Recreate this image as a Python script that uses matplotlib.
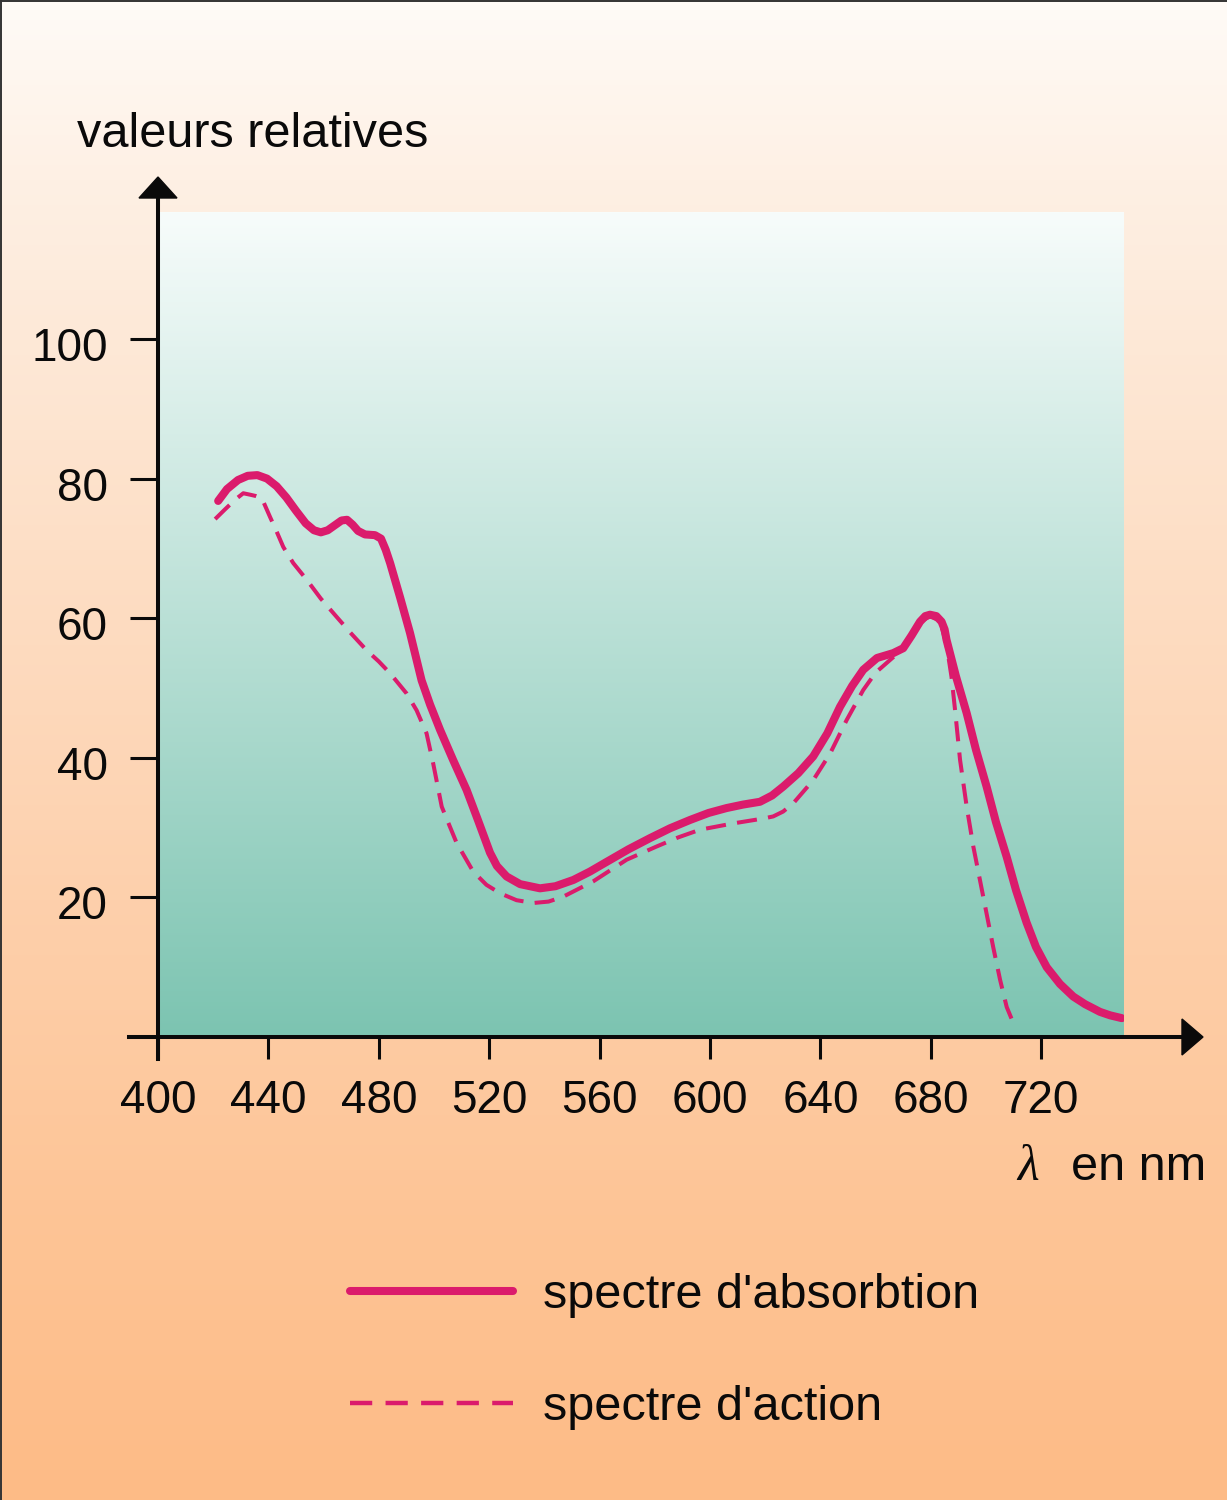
import matplotlib
matplotlib.use("Agg")
import matplotlib.pyplot as plt
import matplotlib.transforms as mtransforms
import numpy as np
from matplotlib.lines import Line2D
from matplotlib.patches import Polygon

# ── Data ──────────────────────────────────────────────────────────────────
wl_absorption = [421.8, 425.0, 429.0, 432.5, 436.0, 439.5, 443.0, 446.5, 450.0,
                 453.5, 456.5, 459.0, 461.5, 464.0, 466.5, 468.5, 470.5, 472.5,
                 475.0, 478.6, 480.8, 482.5, 484.1, 487.7, 491.3, 495.5, 498.6,
                 502.2, 506.9, 511.8, 515.9, 520.3, 522.8, 526.3, 531.2, 538.4,
                 544.0, 550.5, 556.5, 562.6, 570.5, 578.3, 585.5, 592.8, 599.5,
                 606.0, 612.0, 618.1, 622.5, 626.6, 632.0, 637.4, 642.5, 647.1,
                 651.5, 655.5, 660.5, 666.4, 670.0, 673.0, 676.1, 678.0, 679.7,
                 682.0, 683.9, 685.0, 685.7, 689.1, 693.0, 696.4, 700.2, 703.6,
                 707.5, 710.9, 714.7, 718.1, 722.0, 726.8, 731.6, 735.9, 741.3,
                 745.0, 749.2]
absorption = [76.8, 78.5, 79.8, 80.4, 80.5, 80.0, 78.9, 77.3, 75.4,
              73.6, 72.6, 72.3, 72.6, 73.3, 74.0, 74.1, 73.4, 72.5,
              72.0, 71.9, 71.4, 69.8, 67.9, 63.0, 57.9, 51.1, 47.6,
              44.0, 39.7, 35.4, 31.1, 26.4, 24.5, 23.0, 21.9, 21.3,
              21.6, 22.5, 23.7, 25.1, 26.9, 28.5, 29.9, 31.1, 32.1,
              32.8, 33.3, 33.7, 34.6, 35.9, 37.8, 40.2, 43.5, 47.3,
              50.3, 52.6, 54.3, 55.0, 55.7, 57.5, 59.5, 60.3, 60.5,
              60.3, 59.5, 58.4, 56.9, 51.7, 46.4, 41.1, 35.9, 30.8,
              25.8, 21.0, 16.4, 12.9, 10.0, 7.6, 5.8, 4.7, 3.6,
              3.1, 2.7]

wl_action = [420.7, 424.3, 428.0, 430.9, 433.3, 435.5, 437.6, 440.6, 443.0,
             445.4, 449.0, 453.9, 459.0, 464.7, 470.0, 475.6, 480.0, 484.1,
             490.1, 493.7, 497.3, 499.7, 502.8, 505.8, 508.2, 514.2, 519.0,
             523.9, 529.9, 536.0, 541.5, 546.8, 557.7, 569.8, 580.7, 588.5,
             596.4, 608.4, 619.3, 622.9, 626.5, 630.2, 637.4, 643.5, 649.5,
             655.5, 660.0, 665.2, 670.7, 676.1, 679.7, 683.3, 685.7, 687.5,
             688.8, 690.6, 693.0, 695.4, 697.8, 700.2, 702.6, 705.1, 707.5,
             709.9]
action = [74.2, 75.6, 77.0, 77.9, 77.7, 77.5, 77.2, 74.5, 72.4,
          70.2, 67.9, 65.5, 62.8, 60.2, 57.8, 55.4, 53.8, 52.1,
          49.2, 46.8, 43.5, 39.2, 33.0, 30.1, 27.8, 23.7, 21.8,
          20.6, 19.6, 19.2, 19.4, 20.1, 22.3, 25.4, 27.3, 28.6,
          29.7, 30.6, 31.3, 31.6, 32.3, 33.5, 36.8, 40.6, 45.4,
          49.7, 52.2, 54.0, 55.9, 59.4, 60.3, 59.6, 56.2, 51.6,
          46.8, 39.7, 33.0, 27.3, 22.5, 17.7, 12.9, 8.2, 4.3,
          2.0]

x_ticks = [400, 440, 480, 520, 560, 600, 640, 680, 720]
y_ticks = [20, 40, 60, 80, 100]

LABEL_ABS = "spectre d'absorbtion"
LABEL_ACT = "spectre d'action"

# ── Style ─────────────────────────────────────────────────────────────────
CURVE = "#db1b6c"
INK = "#0a0a0a"
FONT = ["Liberation Sans", "DejaVu Sans"]

W, H = 1227, 1500
fig = plt.figure(figsize=(W / 100, H / 100), dpi=100)


def fx(px):
    return px / W


def fy(py):
    return 1 - py / H


# background gradient (pale at top -> peach at bottom)
bg = fig.add_axes([0, 0, 1, 1], zorder=0)
bg.axis("off")
stops = np.array([0.0, 0.12, 0.35, 0.6, 0.8, 1.0])
cols = np.array([[255, 251, 247], [254, 240, 228], [253, 224, 200],
                 [253, 208, 172], [253, 197, 151], [253, 187, 134]]) / 255
t = np.linspace(0, 1, 300)
grad = np.stack([np.interp(t, stops, cols[:, k]) for k in range(3)], axis=1)
bg.imshow(grad[:, None, :], aspect="auto", extent=[0, 1, 0, 1], origin="upper")
bg.set_xlim(0, 1)
bg.set_ylim(0, 1)

# main axes
L, R, T, B = 158, 1124, 212, 1037
ax = fig.add_axes([fx(L), fy(B), fx(R - L), (B - T) / H], zorder=2)
ax.set_facecolor("none")
xmax = 400 + (R - L) / 2.76
ymax = (B - T) / 6.98
ax.set_xlim(400, xmax)
ax.set_ylim(0, ymax)

top_c = np.array([247, 252, 251]) / 255
bot_c = np.array([124, 196, 177]) / 255
tt = np.linspace(0, 1, 300)[:, None]
pgrad = top_c * (1 - tt) + bot_c * tt
ax.imshow(pgrad[:, None, :], aspect="auto", extent=[400, xmax, 0, ymax],
          origin="upper", zorder=0)

ax.plot(wl_action, action, color=CURVE, lw=2.9, dashes=(5.0, 2.8),
        dash_capstyle="butt", dash_joinstyle="round", zorder=3)
ax.plot(wl_absorption, absorption, color=CURVE, lw=5.8,
        solid_capstyle="round", solid_joinstyle="round", zorder=4)

for s in ax.spines.values():
    s.set_visible(False)
ax.set_xticks(x_ticks)
ax.set_yticks(y_ticks)
ax.tick_params(axis="x", direction="out", length=16, width=2.2, color=INK,
               pad=14, labelsize=33, labelcolor=INK)
ax.tick_params(axis="y", direction="out", length=20, width=2.2, color=INK,
               pad=16, labelsize=33, labelcolor=INK)
shift = mtransforms.ScaledTranslation(0, -5 / 100, fig.dpi_scale_trans)
for lab in ax.get_yticklabels():
    lab.set_family(FONT)
    lab.set_transform(lab.get_transform() + shift)
for lab in ax.get_xticklabels():
    lab.set_family(FONT)

# axis lines with arrowheads
lw_ax = 2.9
fig.add_artist(Line2D([fx(158), fx(158)], [fy(1059), fy(195)], color=INK,
                      lw=lw_ax, zorder=5))
fig.add_artist(Polygon([[fx(158), fy(177)], [fx(139), fy(198)], [fx(177), fy(198)]],
                       closed=True, color=INK, transform=fig.transFigure, zorder=5))
fig.add_artist(Line2D([fx(129), fx(1185)], [fy(1037), fy(1037)], color=INK,
                      lw=lw_ax, zorder=5))
fig.add_artist(Polygon([[fx(1203), fy(1037)], [fx(1182), fy(1019)], [fx(1182), fy(1055)]],
                       closed=True, color=INK, transform=fig.transFigure, zorder=5))

# image frame (top and left edges)
fig.add_artist(Line2D([0, 1], [fy(0.7), fy(0.7)], color="#333333", lw=1.4, zorder=6))
fig.add_artist(Line2D([fx(0.7), fx(0.7)], [0, 1], color="#333333", lw=1.4, zorder=6))

# texts
fig.text(fx(77), fy(147), "valeurs relatives", fontsize=35, family=FONT,
         color=INK, va="baseline", ha="left")
fig.text(fx(1017), fy(1180), "λ", fontsize=36, family=["Liberation Serif", "DejaVu Serif"],
         style="italic", color=INK, va="baseline", ha="left")
fig.text(fx(1071), fy(1180), "en nm", fontsize=35, family=FONT,
         color=INK, va="baseline", ha="left")

# legend
h_abs = Line2D([], [], color=CURVE, lw=5.8, solid_capstyle="round")
h_act = Line2D([], [], color=CURVE, lw=3.2, dashes=(5.0, 3.0))
leg = ax.legend([h_abs, h_act], [LABEL_ABS, LABEL_ACT], loc="upper left",
                bbox_to_anchor=(fx(350), fy(1273)), bbox_transform=fig.transFigure,
                frameon=False, prop={"family": FONT, "size": 35},
                handlelength=3.35, handletextpad=0.62, labelspacing=1.38,
                borderpad=0, borderaxespad=0)
for txt in leg.get_texts():
    txt.set_color(INK)

fig.savefig("out.png", dpi=100)
